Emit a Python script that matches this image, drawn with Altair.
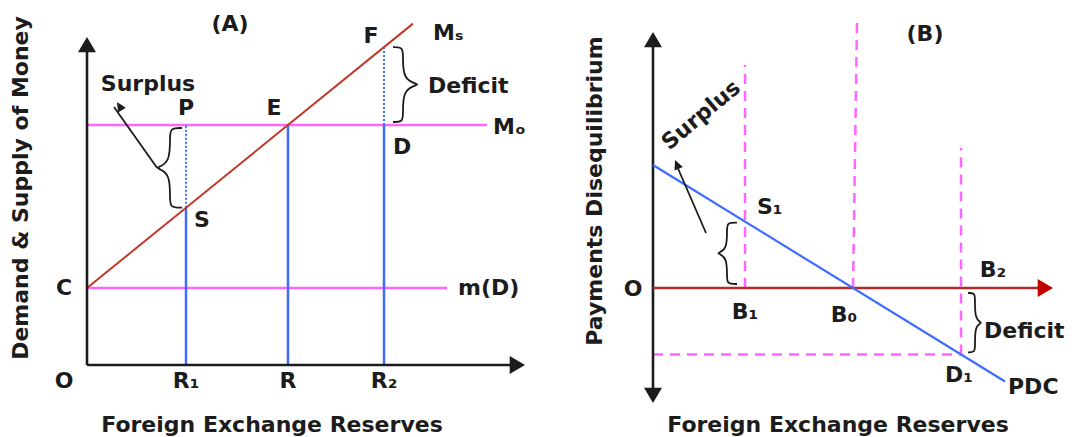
import math

import altair as alt
import pandas as pd

FONT = "DejaVu Sans"
INK = "#1c1c1c"
SUPPLY_RED = "#c0392b"
AXIS_RED = "#b22a2a"
ARROW_RED = "#c00000"
BLUE = "#3d6cff"
PINK = "#ff66ff"

# ---------------- Panel (A): money market ----------------
reserve_low = 9.9        # R1
reserve_high = 29.7      # R2
credit_level = 7.7       # OC, the m(D) line
money_demand = 24.0      # Mo
supply_slope = 0.811     # slope of Ms = C + slope * reserves
supply_end = 32.6
credit_line_end = 36.0
demand_line_end = 40.0
a_x_axis_end = 43.8
a_y_axis_end = 32.8
a_pointer_tip = [3.0, 26.3]


def supply(r):
    return credit_level + supply_slope * r


reserve_eq = (money_demand - credit_level) / supply_slope   # R, where Ms meets Mo

# ---------------- Panel (B): payments disequilibrium curve ----------------
pdc_intercept = 12.3
pdc_slope = -0.615
pdc_end = 35.2
b_low = 9.2              # B1
b_high = 30.8            # B2
b_guide_tops = [22.3, 26.6, 14.0]   # tops of the dashed guides at B1, B0, B2
b_mid_lean = 0.4
b_x_axis_end = 40.0
b_y_axis_top = 25.6
b_y_axis_bottom = -11.5
b_pointer_tail = [5.3, 5.5]
b_pointer_tip = [2.2, 12.8]


def pdc(r):
    return pdc_intercept + pdc_slope * r


b_eq = -pdc_intercept / pdc_slope   # B0, where the PDC crosses the axis

AXIS_HEAD = "M0,0L-1,1.7L1,1.7Z"
POINTER_HEAD = "M0,0L-1,2.1L1,2.1Z"


def heading(dx, dy):
    return math.degrees(math.atan2(dx, dy)) % 360


class Panel:
    def __init__(self, xdom, ydom):
        self.xs = alt.Scale(domain=xdom, nice=False, zero=False)
        self.ys = alt.Scale(domain=ydom, nice=False, zero=False)
        self.layers = []

    def X(self, f):
        return alt.X(f, type="quantitative", scale=self.xs, axis=None)

    def Y(self, f):
        return alt.Y(f, type="quantitative", scale=self.ys, axis=None)

    def segments(self, rows, color, width, dash=None):
        df = pd.DataFrame(rows, columns=["x", "y", "x2", "y2"])
        kw = dict(color=color, strokeWidth=width, strokeCap="butt")
        if dash:
            kw["strokeDash"] = dash
        self.layers.append(
            alt.Chart(df).mark_rule(**kw).encode(
                x=self.X("x"), y=self.Y("y"), x2="x2:Q", y2="y2:Q"
            )
        )

    def heads(self, rows, color, size, path):
        df = pd.DataFrame(rows, columns=["x", "y", "angle"])
        self.layers.append(
            alt.Chart(df).mark_point(
                shape=path, filled=True, size=size, color=color, opacity=1, strokeWidth=0
            ).encode(x=self.X("x"), y=self.Y("y"), angle=alt.Angle("angle:Q", scale=None))
        )

    def braces(self, specs):
        rows = []
        for bid, (spine, lo, hi, tip, end) in enumerate(specs):
            mid = (lo + hi) / 2
            k = 0.12 * (hi - lo)
            pts = [
                (spine + end, hi), (spine, hi), (spine, hi - k), (spine, mid + 0.6 * k),
                (spine + tip, mid), (spine + tip, mid),
                (spine, mid - 0.6 * k), (spine, lo + k), (spine, lo), (spine + end, lo),
            ]
            for i, (x, y) in enumerate(pts):
                rows.append({"b": bid, "i": i, "x": x, "y": y})
        df = pd.DataFrame(rows)
        self.layers.append(
            alt.Chart(df).mark_line(interpolate="basis", color=INK, strokeWidth=1.8).encode(
                x=self.X("x"), y=self.Y("y"), detail="b:N", order="i:Q"
            )
        )

    def label(self, text, x, y, dx=0, dy=0, align="center", size=22, angle=0):
        df = pd.DataFrame({"x": [x], "y": [y], "t": [text]})
        self.layers.append(
            alt.Chart(df).mark_text(
                dx=dx, dy=dy, align=align, baseline="middle", fontSize=size,
                font=FONT, fontWeight="bold", angle=angle, color=INK,
            ).encode(x=self.X("x"), y=self.Y("y"), text="t:N")
        )

    def caption(self, text, px, py, size=22, angle=0):
        df = pd.DataFrame({"t": [text]})
        self.layers.append(
            alt.Chart(df).mark_text(
                align="center", baseline="middle", fontSize=size, font=FONT,
                fontWeight="bold", angle=angle, color=INK,
            ).encode(x=alt.value(px), y=alt.value(py), text="t:N")
        )


# ----- build (A) -----
A = Panel([-8.7, 45.3], [-7.2, 36.5])
A.segments([(0, credit_level, credit_line_end, credit_level),
            (0, money_demand, demand_line_end, money_demand)], PINK, 2.5)
A.segments([(reserve_low, 0, reserve_low, supply(reserve_low)),
            (reserve_eq, 0, reserve_eq, money_demand),
            (reserve_high, 0, reserve_high, money_demand)], BLUE, 2.5)
A.segments([(reserve_low, supply(reserve_low), reserve_low, money_demand),
            (reserve_high, money_demand, reserve_high, supply(reserve_high))], BLUE, 2, dash=[2, 2])
A.segments([(0, credit_level, supply_end, supply(supply_end))], SUPPLY_RED, 2)
A.segments([(0, 0, 0, a_y_axis_end - 1.0), (0, 0, a_x_axis_end - 1.0, 0)], INK, 2.6)
A.heads([(0, a_y_axis_end, 0), (a_x_axis_end, 0, 90)], INK, 324, AXIS_HEAD)

a_brace_left = (reserve_low - 1.6, supply(reserve_low), money_demand - 0.3, -1.3, 1.2)
a_brace_right = (reserve_high + 1.9, money_demand + 0.3, supply(reserve_high), 1.5, -1.0)
A.braces([a_brace_left, a_brace_right])

a_tail = (a_brace_left[0] + a_brace_left[3], (a_brace_left[1] + a_brace_left[2]) / 2)
A.segments([(a_tail[0], a_tail[1], a_pointer_tip[0] - 0.3, a_pointer_tip[1] - 0.5)], INK, 1.8)
A.heads([(a_pointer_tip[0], a_pointer_tip[1],
          heading(a_pointer_tip[0] - a_tail[0], a_pointer_tip[1] - a_tail[1]))], INK, 81, POINTER_HEAD)

A.label("O", 0, 0, dx=-23, dy=16)
A.label("C", 0, credit_level, dx=-23)
A.label("R₁", reserve_low, 0, dy=16)
A.label("R", reserve_eq, 0, dy=16)
A.label("R₂", reserve_high, 0, dy=16)
A.label("P", reserve_low, money_demand, dy=-17)
A.label("S", reserve_low, supply(reserve_low), dx=16, dy=12)
A.label("E", reserve_eq, money_demand, dx=-14, dy=-17)
A.label("F", reserve_high, supply(reserve_high), dx=-13, dy=-11)
A.label("D", reserve_high, money_demand, dx=18, dy=22)
A.label("Mₛ", supply_end, supply(supply_end), dx=20, dy=9, align="left")
A.label("Mₒ", demand_line_end, money_demand, dx=6, dy=2, align="left")
A.label("m(D)", credit_line_end, credit_level, dx=11, align="left")
A.label("Deficit", a_brace_right[0] + a_brace_right[3], (a_brace_right[1] + a_brace_right[2]) / 2,
        dx=10, dy=1, align="left")
A.label("Surplus", a_pointer_tip[0], a_pointer_tip[1], dx=31, dy=-18)
A.caption("(A)", 230, 24)
A.caption("Demand & Supply of Money", 21, 188, angle=270)
A.caption("Foreign Exchange Reserves", 272, 425)

# ----- build (B) -----
B = Panel([-11.3, 42.6], [-14.9, 28.8])
d1 = pdc(b_high)
B.segments([(b_low, 0, b_low, b_guide_tops[0]),
            (b_eq, 0, b_eq + b_mid_lean, b_guide_tops[1]),
            (b_high, d1, b_high, b_guide_tops[2]),
            (0, d1, b_high, d1)], PINK, 2.5, dash=[10, 7])
B.segments([(0, b_y_axis_bottom + 1.0, 0, b_y_axis_top - 1.0)], INK, 2.6)
B.heads([(0, b_y_axis_top, 0), (0, b_y_axis_bottom, 180)], INK, 324, AXIS_HEAD)
B.segments([(0, 0, b_x_axis_end - 1.0, 0)], AXIS_RED, 2.6)
B.heads([(b_x_axis_end, 0, 90)], ARROW_RED, 324, AXIS_HEAD)
B.segments([(0, pdc_intercept, pdc_end, pdc(pdc_end))], BLUE, 2.2)

b_brace_left = (b_low - 1.8, 0.4, pdc(b_low) - 0.1, -0.9, 1.0)
b_brace_right = (b_high + 1.4, d1 + 0.2, -0.5, 0.6, -0.7)
B.braces([b_brace_left, b_brace_right])

B.segments([(b_pointer_tail[0], b_pointer_tail[1], b_pointer_tip[0] + 0.15, b_pointer_tip[1] - 0.5)], INK, 1.8)
B.heads([(b_pointer_tip[0], b_pointer_tip[1],
          heading(b_pointer_tip[0] - b_pointer_tail[0], b_pointer_tip[1] - b_pointer_tail[1]))],
        INK, 81, POINTER_HEAD)

B.label("O", 0, 0, dx=-20, dy=1)
B.label("S₁", b_low, pdc(b_low), dx=12, dy=-15, align="left")
B.label("B₁", b_low, 0, dy=24)
B.label("B₀", b_eq, 0, dx=-9, dy=27)
B.label("B₂", b_high, 0, dx=32, dy=-18)
B.label("D₁", b_high, d1, dx=-2, dy=21)
B.label("PDC", pdc_end, pdc(pdc_end), dx=3, dy=6, align="left")
B.label("Deficit", b_brace_right[0] + b_brace_right[3], (b_brace_right[1] + b_brace_right[2]) / 2,
        dx=3, dy=8, align="left")
B.caption("Surplus", 161, 115, angle=320)
B.caption("(B)", 385, 34)
B.caption("Payments Disequilibrium", 55, 191, angle=270)
B.caption("Foreign Exchange Reserves", 298, 425)

left = alt.layer(*A.layers).properties(width=540, height=437)
right = alt.layer(*B.layers).properties(width=539, height=437)

chart = (
    alt.hconcat(left, right, spacing=0, bounds="flush")
    .properties(padding=0, background="white")
    .configure_view(stroke=None)
)

chart.save("out.html", embed_options={"renderer": "svg", "actions": False})
